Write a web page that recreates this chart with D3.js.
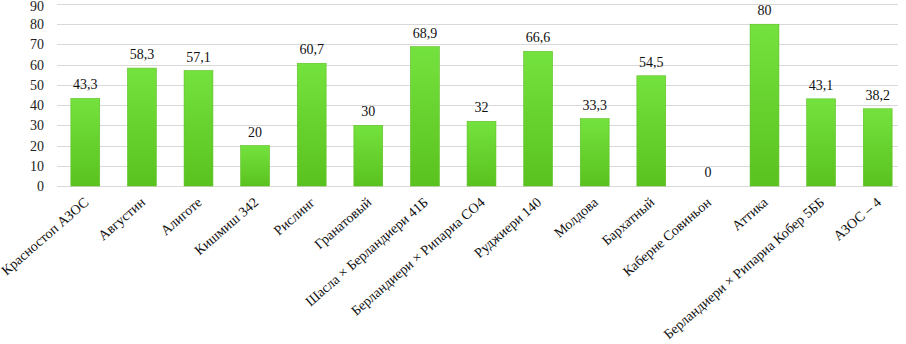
<!DOCTYPE html>
<html>
<head>
<meta charset="utf-8">
<script src="https://cdn.jsdelivr.net/npm/d3@7"></script>
<style>
    body { margin: 0; background: #fff; }
    svg text { font-family: "Liberation Serif", "DejaVu Serif", "Times New Roman", serif; }
</style>
</head>
<body>
<div id="chart"></div>
<script>
// sorts (categories) and values
const categories = [
    "Красностоп АЗОС", "Августин", "Алиготе", "Кишмиш 342", "Рислинг",
    "Гранатовый", "Шасла × Берландиери 41Б", "Берландиери × Рипариа СО4",
    "Руджиери 140", "Молдова", "Бархатный", "Каберне Совиньон", "Аттика",
    "Берландиери × Рипариа Кобер 5ББ", "АЗОС – 4"
];
const values = [43.3, 58.3, 57.1, 20, 60.7, 30, 68.9, 32, 66.6, 33.3, 54.5, 0, 80, 43.1, 38.2];
const yTicks = [0, 10, 20, 30, 40, 50, 60, 70, 80, 90];

const width = 906, height = 344;
const margin = {top: 4, right: 0, bottom: 158, left: 57};

let svg = d3.select("#chart").append("svg")
    .attr("width", width)
    .attr("height", height);

let defs = svg.append("defs");
let grad = defs.append("linearGradient")
    .attr("id", "barGrad")
    .attr("x1", 0).attr("y1", 0).attr("x2", 0).attr("y2", 1);
grad.append("stop").attr("offset", "0%").attr("stop-color", "#74e23e");
grad.append("stop").attr("offset", "100%").attr("stop-color", "#5ac21f");

let x = d3.scaleBand()
    .domain(categories)
    .range([margin.left, width - margin.right])
    .paddingInner(0.49)
    .paddingOuter(0.245);

let y = d3.scaleLinear()
    .domain([0, 90])
    .range([height - margin.bottom, margin.top]);

// gridlines
svg.append("g")
    .selectAll("line")
    .data(yTicks)
    .join("line")
    .attr("x1", margin.left)
    .attr("x2", width - 8)
    .attr("y1", d => Math.round(y(d)) + 0.5)
    .attr("y2", d => Math.round(y(d)) + 0.5)
    .attr("stroke", "#d9d9d9")
    .attr("stroke-width", 1.2);

// y tick labels
svg.append("g")
    .selectAll("text")
    .data(yTicks)
    .join("text")
    .attr("x", 44)
    .attr("y", d => Math.max(y(d) + 5, 11))
    .attr("text-anchor", "end")
    .attr("font-size", "14px")
    .attr("fill", "#222")
    .text(d => d);

let data = categories.map((c, i) => ({name: c, value: values[i]}));

// bars
svg.append("g")
    .selectAll("rect")
    .data(data)
    .join("rect")
    .attr("x", d => x(d.name))
    .attr("y", d => y(d.value))
    .attr("width", x.bandwidth())
    .attr("height", d => y(0) - y(d.value))
    .attr("fill", "url(#barGrad)")
    .attr("stroke", "#5cbf22")
    .attr("stroke-width", 0.6);

// value labels
svg.append("g")
    .selectAll("text")
    .data(data)
    .join("text")
    .attr("x", d => x(d.name) + x.bandwidth() / 2)
    .attr("y", d => y(d.value) - 9)
    .attr("text-anchor", "middle")
    .attr("font-size", "14px")
    .attr("fill", "#111")
    .text(d => String(d.value).replace(".", ","));

// category labels, rotated
svg.append("g")
    .selectAll("text")
    .data(categories)
    .join("text")
    .attr("transform", d => `translate(${x(d) + x.bandwidth() / 2 + 1}, ${y(0) + 14}) rotate(-41)`)
    .attr("text-anchor", "end")
    .attr("font-size", "14px")
    .attr("fill", "#111")
    .attr("dy", "0.35em")
    .text(d => d);
</script>
</body>
</html>
